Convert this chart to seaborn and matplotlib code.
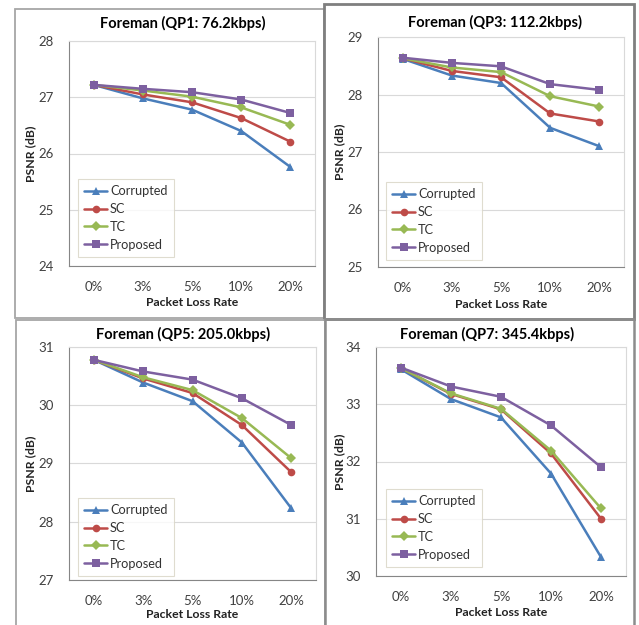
import matplotlib
matplotlib.use("Agg")
import matplotlib.pyplot as plt
import seaborn as sns
import pandas as pd
from matplotlib.patches import Rectangle
from matplotlib.lines import Line2D

sns.set_theme(style="white")
plt.rcParams['font.family'] = ['Lato', 'DejaVu Sans']

rates = ["0%", "3%", "5%", "10%", "20%"]
methods = ["Corrupted", "SC", "TC", "Proposed"]

titles = ["Foreman (QP1: 76.2kbps)", "Foreman (QP3: 112.2kbps)",
          "Foreman (QP5: 205.0kbps)", "Foreman (QP7: 345.4kbps)"]
ylims = [(24, 28), (25, 29), (27, 31), (30, 34)]

qp1_corrupted = [27.22, 26.98, 26.78, 26.40, 25.76]
qp1_sc        = [27.22, 27.05, 26.91, 26.63, 26.21]
qp1_tc        = [27.22, 27.12, 27.01, 26.82, 26.51]
qp1_proposed  = [27.22, 27.15, 27.09, 26.96, 26.72]

qp3_corrupted = [28.62, 28.33, 28.20, 27.42, 27.10]
qp3_sc        = [28.63, 28.41, 28.30, 27.67, 27.53]
qp3_tc        = [28.63, 28.47, 28.39, 27.97, 27.79]
qp3_proposed  = [28.64, 28.55, 28.49, 28.18, 28.08]

qp5_corrupted = [30.78, 30.39, 30.07, 29.36, 28.23]
qp5_sc        = [30.78, 30.46, 30.21, 29.66, 28.85]
qp5_tc        = [30.78, 30.48, 30.26, 29.78, 29.09]
qp5_proposed  = [30.78, 30.58, 30.44, 30.12, 29.66]

qp7_corrupted = [33.61, 33.09, 32.77, 31.79, 30.33]
qp7_sc        = [33.63, 33.18, 32.91, 32.14, 31.00]
qp7_tc        = [33.63, 33.19, 32.92, 32.19, 31.18]
qp7_proposed  = [33.64, 33.31, 33.13, 32.63, 31.90]

panels = [
    [qp1_corrupted, qp1_sc, qp1_tc, qp1_proposed],
    [qp3_corrupted, qp3_sc, qp3_tc, qp3_proposed],
    [qp5_corrupted, qp5_sc, qp5_tc, qp5_proposed],
    [qp7_corrupted, qp7_sc, qp7_tc, qp7_proposed],
]

colors = {"Corrupted": "#4A7EBB", "SC": "#BE4B48", "TC": "#98B954", "Proposed": "#7D60A0"}
markers = {"Corrupted": "^", "SC": "o", "TC": "D", "Proposed": "s"}

W, H = 639, 625
fig = plt.figure(figsize=(W / 100, H / 100), dpi=100)
fig.patch.set_facecolor("white")

# plot-area boxes in pixels: (left, top, right, bottom)
areas = [(69, 41, 315, 266), (378, 37, 624, 267), (69, 347, 316, 580), (376, 347, 626, 576)]
title_pos = [(183, 23), (495, 22), (183, 334), (487, 334)]
ylab_x = [31, 340, 31, 340]
xlab_y = [303, 305, 615, 613]
legend_pos = [(78, 179), (386, 182), (78, 498), (386, 489)]

# panel borders (bottom row extends past the figure edge)
borders = [((15, 9, 324, 318), "#A6A6A6", 1.3), ((324, 4, 634, 319), "#7F7F7F", 2.0),
           ((16, 320, 325, 640), "#A6A6A6", 1.3), ((325, 319, 634, 640), "#8C8C8C", 1.8)]
for (l, t, r, b), c, lw in borders:
    fig.add_artist(Rectangle((l / W, 1 - b / H), (r - l) / W, (b - t) / H,
                             transform=fig.transFigure, fill=False, edgecolor=c, lw=lw))

for i in range(4):
    l, t, r, b = areas[i]
    ax = fig.add_axes([l / W, 1 - b / H, (r - l) / W, (b - t) / H])
    rows = []
    for m, vals in zip(methods, panels[i]):
        for rate, v in zip(rates, vals):
            rows.append({"rate": rate, "psnr": v, "method": m})
    df = pd.DataFrame(rows)
    sns.lineplot(data=df, x="rate", y="psnr", hue="method", style="method",
                 hue_order=methods, style_order=methods, palette=colors,
                 markers=markers, dashes=False, sort=False, lw=1.8,
                 markersize=5.5, markeredgewidth=0, ax=ax, legend=False)
    ax.set_xlim(-0.5, 4.5)
    y0, y1 = ylims[i]
    ax.set_ylim(y0, y1)
    ax.set_yticks(range(y0, y1 + 1))
    ax.set_xticks(range(5))
    ax.set_xticklabels(rates)
    ax.set_xticks([k - 0.5 for k in range(6)], minor=True)
    ax.tick_params(axis="x", which="major", length=0, pad=11, labelsize=9.5, colors="#404040")
    ax.tick_params(axis="x", which="minor", length=5, width=0.8, color="#868686", direction="out")
    ax.tick_params(axis="y", which="major", length=5, width=0.8, color="#868686", direction="out",
                   pad=6, labelsize=9.5, labelcolor="#404040")
    ax.yaxis.grid(True, color="#D9D9D9", lw=0.8)
    ax.set_axisbelow(True)
    for s in ["left", "bottom"]:
        ax.spines[s].set_color("#868686")
        ax.spines[s].set_linewidth(0.8)
    for s in ["top", "right"]:
        ax.spines[s].set_color("#D9D9D9")
        ax.spines[s].set_linewidth(0.8)
    ax.set_xlabel("")
    ax.set_ylabel("")

    tx, ty = title_pos[i]
    fig.text(tx / W, 1 - ty / H, titles[i], ha="center", va="center",
             fontsize=10.5, fontweight="bold", color="black")
    fig.text(ylab_x[i] / W, 1 - ((t + b) / 2) / H, "PSNR (dB)", rotation=90,
             ha="center", va="center", fontsize=8.8, fontweight="bold", color="#222222")
    fig.text(((l + r) / 2) / W, 1 - xlab_y[i] / H, "Packet Loss Rate",
             ha="center", va="center", fontsize=8.8, fontweight="bold", color="#222222")

    handles = [Line2D([0], [0], color=colors[m], marker=markers[m], lw=1.8,
                      markersize=5.5, markeredgewidth=0) for m in methods]
    lx, ly = legend_pos[i]
    leg = ax.legend(handles, methods, loc="upper left",
                    bbox_to_anchor=(lx / W, 1 - ly / H), bbox_transform=fig.transFigure,
                    fontsize=9.2, frameon=True, fancybox=False, handlelength=1.8,
                    handletextpad=0.2, labelspacing=0.45, borderpad=0.5, borderaxespad=0)
    leg.get_frame().set_edgecolor("#D8D4C4")
    leg.get_frame().set_linewidth(0.8)
    for txt in leg.get_texts():
        txt.set_color("#333333")

fig.savefig("out.png", dpi=100, facecolor="white")
